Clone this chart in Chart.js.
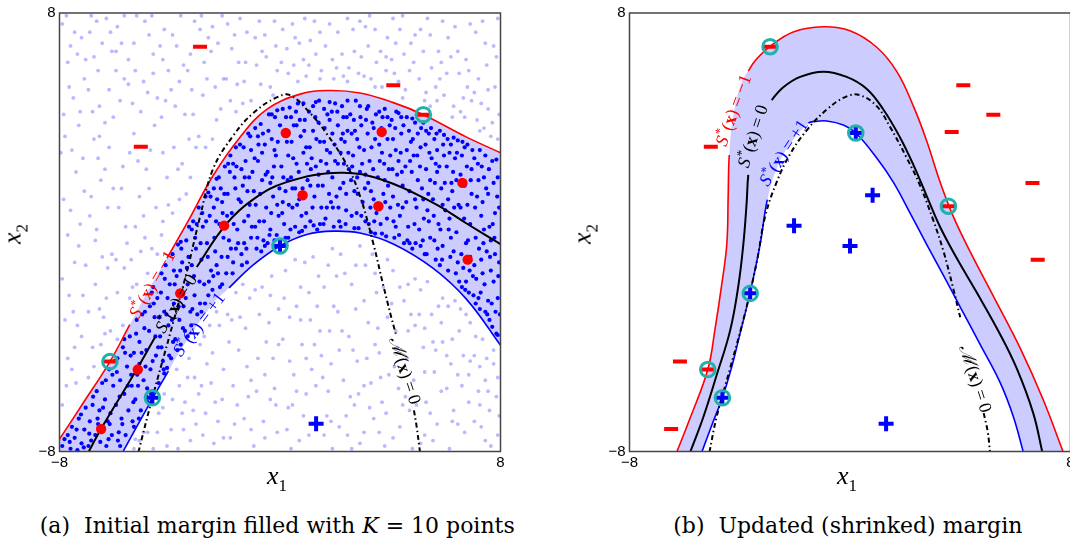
<!DOCTYPE html>
<html>
<head>
<meta charset="utf-8">
<script src="https://cdn.jsdelivr.net/npm/chart.js@4.4.1/dist/chart.umd.min.js"></script>
<style>
html,body{margin:0;padding:0;background:#fff;}
body{width:1070px;height:543px;overflow:hidden;position:relative;}
.panel{position:absolute;top:0;width:520px;height:470px;}
.panel canvas{display:block;}
.axt{position:absolute;font-family:"Liberation Serif",serif;font-style:italic;font-size:26px;line-height:26px;white-space:nowrap;color:#000;}
.axt .sb{font-style:normal;font-size:17px;position:relative;top:6.5px;}
.cap{position:absolute;font-family:"DejaVu Serif",serif;font-size:21.5px;line-height:26px;white-space:pre;color:#000;transform-origin:50% 50%;}
</style>
</head>
<body>
<div class="panel" style="left:0"><canvas id="chartA" width="520" height="470"></canvas></div>
<div class="panel" style="left:570px"><canvas id="chartB" width="520" height="470"></canvas></div>
<div class="axt" style="left:277px;top:463px;transform:translateX(-50%)">x<span class="sb">1</span></div>
<div class="axt" style="left:847px;top:463px;transform:translateX(-50%)">x<span class="sb">1</span></div>
<div class="axt" style="left:13.5px;top:233.5px;transform:translate(-50%,-50%) rotate(-90deg)">x<span class="sb">2</span></div>
<div class="axt" style="left:583.5px;top:233.5px;transform:translate(-50%,-50%) rotate(-90deg)">x<span class="sb">2</span></div>
<div class="cap" data-cx="277.5" data-w="475" style="top:512.5px">(a)  Initial margin filled with <i>K</i> = 10 points</div>
<div class="cap" data-cx="847.5" data-w="349" style="top:512.5px">(b)  Updated (shrinked) margin</div>
<script>
// ---------------- data ----------------
const AXIS_MIN = -8, AXIS_MAX = 8;
const AXIS_TICKS = [-8, 8];
const CURVE_LEVELS = { red: '\u22121', zero: '0', blue: '+1' };
const BOUNDARY_LEVEL = '0';

// panel (a): contour S*(x) = -1, 0, +1 and true boundary M(x) = 0
const leftRed = [[-8,-7.55],[-7.14,-6.23],[-6.17,-4.72],[-5.45,-3.37],[-4.96,-2.45],[-4.1,-0.94],[-3.38,0.32],[-2.42,2.08],[-1.45,3.47],[-0.48,4.48],[0.73,5.04],[1.75,5.17],[2.90,5.08],[4.11,4.73],[5.20,4.29],[6.77,3.47],[8,2.90]];
const leftZero = [[-6.95,-8.03],[-6.53,-7.24],[-5.20,-5.01],[-4.53,-3.82],[-3.63,-2.26],[-3.02,-1.27],[-1.93,0.32],[-0.97,1.20],[0.24,1.83],[2.18,2.17],[3.75,1.90],[5.56,1.07],[6.77,0.32],[8,-0.43]];
const leftBlue = [[-5.71,-8.03],[-4.65,-6.11],[-4.05,-5.07],[-3.63,-4.34],[-2.42,-2.58],[-1.85,-2.03],[-0.97,-1.19],[0,-0.50],[0.97,-0.08],[1.94,0.04],[2.90,-0.03],[4.11,-0.43],[5.56,-1.32],[6.77,-2.45],[8,-4.12]];
const leftBoundary = [[-5.14,-8.03],[-4.65,-6.11],[-3.99,-3.71],[-3.38,-1.44],[-2.90,0.57],[-2.42,2.33],[-1.69,3.53],[-0.97,4.35],[-0.12,4.92],[0.36,5.00],[1.09,4.35],[1.69,3.60],[2.42,2.46],[2.90,1.33],[3.39,-0.43],[3.75,-1.95],[4.2,-3.7],[4.60,-4.97],[4.86,-6.5],[4.96,-7.11],[5.06,-7.87],[5.08,-8.03]];
const leftGaps = { red: [-5.45,-4.1], zero: [-4.53,-3.02], blue: [-4.05,-1.85], boundary: [4.2,4.86] };

// panel (a): samples inside the margin (dark)
const leftMarginSamples = [[-7.9,-7.8],[-7.7,-7.4],[-7.6,-7.9],[-7.55,-7.1],[-7.45,-7.5],[-7.3,-6.8],[-7.2,-7.7],[-7.1,-7.2],[-7.05,-6.4],[-7.35,-7.95],[-6.95,-7.8],[-6.9,-6.9],[-6.8,-6.3],[-6.7,-7.4],[-6.65,-5.8],[-6.6,-7.0],[-6.55,-6.5],[-6.85,-7.6],[-6.45,-5.5],[-6.4,-7.2],[-6.35,-6.1],[-6.3,-7.8],[-6.2,-5.0],[-6.15,-6.6],[-6.1,-7.4],[-6.05,-5.6],[-6.25,-6.9],[-6.0,-4.7],[-5.95,-6.3],[-5.9,-4.6],[-5.85,-7.3],[-5.8,-5.4],[-5.75,-6.8],[-5.7,-4.2],[-5.65,-5.9],[-5.6,-7.4],[-5.55,-4.9],[-5.5,-6.5],[-5.65,-3.9],[-5.8,-7.8],[-5.45,-3.8],[-5.4,-5.2],[-5.35,-6.9],[-5.3,-4.4],[-5.25,-6.1],[-5.2,-3.2],[-5.15,-5.6],[-5.1,-4.0],[-5.05,-6.5],[-5.0,-3.0],[-5.3,-7.1],[-5.1,-4.8],[-4.95,-5.4],[-4.9,-2.9],[-4.85,-4.3],[-4.8,-6.2],[-4.75,-3.6],[-4.7,-5.0],[-4.65,-2.2],[-4.6,-5.8],[-4.55,-3.1],[-4.5,-4.5],[-4.85,-6.0],[-4.6,-2.0],[-4.45,-2.4],[-4.4,-5.5],[-4.35,-3.8],[-4.3,-1.5],[-4.25,-4.7],[-4.2,-2.9],[-4.15,-1.2],[-4.1,-4.95],[-4.05,-3.4],[-4.0,-1.9],[-4.3,-4.2],[-4.2,-5.15],[-3.95,-4.6],[-3.9,-0.8],[-3.85,-2.6],[-3.8,-3.9],[-3.75,-1.6],[-3.7,-0.45],[-3.65,-3.2],[-3.6,-4.1],[-3.55,-1.1],[-3.5,-2.7],[-3.85,-1.4],[-3.6,-0.35],[-3.45,-3.6],[-3.4,-0.3],[-3.35,-1.9],[-3.3,0.2],[-3.25,-2.9],[-3.2,-1.2],[-3.15,0.4],[-3.1,-2.3],[-3.05,-0.6],[-3.0,-3.0],[-3.35,-3.8],[-3.2,0.1],[-2.95,0.9],[-2.9,-2.6],[-2.85,-1.0],[-2.8,0.2],[-2.75,-1.9],[-2.7,1.3],[-2.65,-0.4],[-2.6,-2.3],[-2.55,0.6],[-2.5,-1.4],[-2.85,-2.9],[-2.6,1.45],[-2.45,-2.1],[-2.4,0.9],[-2.35,-0.7],[-2.3,1.95],[-2.25,-1.5],[-2.2,0.3],[-2.15,1.6],[-2.1,-1.9],[-2.05,-0.2],[-2.0,2.4],[-2.4,1.6],[-2.3,-1.2],[-2.1,1.1],[-1.95,-1.5],[-1.9,1.4],[-1.85,-0.3],[-1.8,2.8],[-1.75,0.7],[-1.7,-1.1],[-1.65,2.0],[-1.6,3.1],[-1.55,0.1],[-1.5,1.2],[-1.9,-0.9],[-1.7,2.5],[-1.6,-0.6],[-1.45,3.2],[-1.4,-0.8],[-1.35,1.7],[-1.3,0.4],[-1.25,2.6],[-1.2,-1.1],[-1.15,3.6],[-1.1,1.0],[-1.05,-0.2],[-1.0,2.2],[-1.4,2.3],[-1.3,-0.4],[-1.15,0.6],[-1.05,3.0],[-0.95,1.5],[-0.9,3.8],[-0.85,-0.6],[-0.8,2.6],[-0.75,0.4],[-0.7,3.95],[-0.65,1.9],[-0.6,-0.3],[-0.55,3.2],[-0.5,0.9],[-0.9,0.2],[-0.8,3.5],[-0.65,2.9],[-0.55,-0.5],[-0.45,2.2],[-0.4,4.3],[-0.35,0.1],[-0.3,3.4],[-0.25,1.3],[-0.2,-0.3],[-0.15,2.8],[-0.1,4.45],[-0.05,0.6],[0.0,3.9],[-0.45,-0.4],[-0.35,1.8],[-0.2,3.0],[-0.1,1.0],[-0.3,4.3],[0.05,2.4],[0.1,4.5],[0.15,0.3],[0.2,1.5],[0.25,3.3],[0.3,-0.2],[0.35,4.55],[0.4,2.0],[0.45,0.9],[0.5,3.9],[0.1,1.1],[0.2,-0.2],[0.3,2.8],[0.4,4.2],[0.45,1.6],[0.55,0.2],[0.6,2.5],[0.65,4.7],[0.7,1.2],[0.75,3.5],[0.8,0.05],[0.85,2.9],[0.9,4.1],[0.95,0.7],[1.0,1.9],[0.6,3.9],[0.7,0.0],[0.85,4.7],[0.95,3.1],[0.55,1.6],[1.05,4.4],[1.1,0.4],[1.15,2.7],[1.2,3.7],[1.25,1.3],[1.3,4.75],[1.35,0.1],[1.4,2.1],[1.45,3.3],[1.5,0.9],[1.1,1.7],[1.2,4.6],[1.3,2.4],[1.4,4.0],[1.45,0.3],[1.55,1.7],[1.6,4.5],[1.65,0.5],[1.7,3.0],[1.75,2.2],[1.8,4.75],[1.85,1.1],[1.9,3.6],[1.95,0.2],[2.0,2.6],[1.6,3.3],[1.7,0.9],[1.8,4.1],[1.9,2.0],[2.0,4.7],[2.05,1.3],[2.1,3.9],[2.15,0.4],[2.2,2.9],[2.25,4.6],[2.3,1.8],[2.35,3.3],[2.4,0.8],[2.45,4.8],[2.5,2.3],[2.1,2.5],[2.2,0.2],[2.3,4.2],[2.4,1.4],[2.45,3.7],[2.55,4.3],[2.6,0.6],[2.65,2.8],[2.7,1.5],[2.75,4.8],[2.8,3.4],[2.85,0.15],[2.9,2.2],[2.95,3.9],[3.0,1.1],[2.6,3.6],[2.7,0.15],[2.8,2.0],[2.9,4.6],[2.95,0.6],[3.05,3.0],[3.1,0.4],[3.15,4.5],[3.2,1.8],[3.25,2.6],[3.3,0.0],[3.35,4.0],[3.4,1.2],[3.45,3.4],[3.5,0.7],[3.1,2.1],[3.2,4.6],[3.3,1.5],[3.4,3.8],[3.45,-0.05],[3.55,2.0],[3.6,4.4],[3.65,0.3],[3.7,2.9],[3.75,1.4],[3.8,4.5],[3.85,-0.15],[3.9,3.4],[3.95,2.3],[4.0,0.9],[3.6,3.2],[3.7,-0.05],[3.8,1.9],[3.9,4.2],[4.0,2.8],[4.05,4.1],[4.1,1.3],[4.15,-0.2],[4.2,3.0],[4.25,2.1],[4.3,4.35],[4.35,0.6],[4.4,3.6],[4.45,1.7],[4.5,-0.4],[4.1,3.4],[4.2,0.2],[4.3,2.6],[4.4,4.2],[4.45,0.9],[4.55,2.4],[4.6,4.2],[4.65,0.2],[4.7,1.5],[4.75,3.3],[4.8,-0.6],[4.85,2.8],[4.9,4.0],[4.95,0.9],[5.0,1.9],[4.6,3.0],[4.7,-0.4],[4.8,4.15],[4.9,1.2],[5.0,3.6],[5.05,0.1],[5.1,3.1],[5.15,1.6],[5.2,4.0],[5.25,-0.8],[5.3,2.3],[5.35,0.8],[5.4,3.6],[5.45,-0.2],[5.5,2.7],[5.1,-0.5],[5.2,1.2],[5.3,3.7],[5.4,0.4],[5.45,1.9],[5.55,1.2],[5.6,3.4],[5.65,-1.0],[5.7,2.2],[5.75,0.3],[5.8,3.7],[5.85,1.6],[5.9,-0.5],[5.95,2.8],[6.0,0.8],[5.6,-0.3],[5.7,3.0],[5.8,-1.2],[5.9,1.0],[5.95,3.55],[5.65,2.5],[6.05,2.4],[6.1,-1.4],[6.15,0.5],[6.2,3.2],[6.25,1.5],[6.3,-0.7],[6.35,2.7],[6.4,0.0],[6.45,3.35],[6.5,-1.8],[6.1,1.2],[6.2,-0.2],[6.3,3.45],[6.4,1.9],[6.45,-1.1],[6.15,2.9],[6.55,0.9],[6.6,2.8],[6.65,-1.3],[6.7,1.7],[6.75,-0.4],[6.8,3.2],[6.85,-2.2],[6.9,0.3],[6.95,2.3],[7.0,-1.6],[6.6,-2.0],[6.7,3.1],[6.8,1.0],[6.9,-0.9],[6.95,1.4],[6.55,2.1],[6.75,-1.8],[7.05,2.7],[7.1,-0.2],[7.15,1.3],[7.2,-2.4],[7.25,3.0],[7.3,0.6],[7.35,-1.5],[7.4,2.0],[7.45,-2.9],[7.5,-0.7],[7.1,-2.6],[7.2,1.9],[7.3,-1.0],[7.4,0.1],[7.45,2.8],[7.05,-1.2],[7.25,-2.8],[7.35,1.1],[7.55,1.4],[7.6,-3.2],[7.65,-0.3],[7.7,2.6],[7.75,-1.8],[7.8,0.7],[7.85,-3.7],[7.9,2.0],[7.95,-1.1],[7.55,-2.5],[7.6,0.2],[7.7,-3.45],[7.75,1.8],[7.8,-0.8],[7.85,2.65],[7.9,-2.4],[7.95,0.9],[7.65,-1.4],[7.9,-3.75],
[-7.82,-7.55],[-7.63,-7.65],[-7.38,-7.2],[-7.22,-6.65],[-7.12,-7.85],[-6.92,-7.35],[-6.78,-6.0],[-6.62,-6.8],[-6.52,-7.65],[-6.42,-6.4],[-6.32,-5.4],[-6.18,-7.0],[-6.08,-5.2],[-6.22,-7.55],[-5.92,-5.1],[-5.82,-6.0],[-5.72,-7.0],[-5.62,-4.4],[-5.52,-5.6],[-5.88,-7.6],[-5.42,-4.5],[-5.32,-6.2],[-5.22,-3.7],[-5.12,-6.8],[-5.02,-4.4],[-5.38,-5.6],[-5.18,-5.2],[-4.92,-3.5],[-4.82,-5.7],[-4.72,-2.7],[-4.62,-4.7],[-4.52,-3.8],[-4.88,-4.9],[-4.68,-5.9],[-4.58,-2.6],[-4.42,-4.2],[-4.32,-2.2],[-4.22,-5.0],[-4.12,-3.0],[-4.02,-4.5],[-4.38,-3.1],[-4.18,-1.7],[-4.08,-2.4],[-3.92,-3.2],[-3.82,-1.9],[-3.72,-4.3],[-3.62,-1.4],[-3.52,-3.5],[-3.88,-4.0],[-3.68,-2.7],[-3.58,-0.6],[-3.42,-2.4],[-3.32,-0.9],[-3.22,-3.4],[-3.12,-1.6],[-3.02,0.3],[-3.38,-1.3],[-3.18,-2.8],[-3.08,-0.2],[-2.92,-1.8],[-2.82,0.7],[-2.72,-2.6],[-2.62,-0.9],[-2.52,1.3],[-2.88,-0.4],[-2.68,0.4],[-2.58,-1.8],[-2.42,-1.6],[-2.32,0.4],[-2.22,2.0],[-2.12,-0.9],[-2.02,1.4],[-2.38,-0.2],[-2.18,-2.0],[-2.08,0.7],[-2.28,1.2],[-1.92,0.6],[-1.82,2.2],[-1.72,-1.5],[-1.62,1.6],[-1.52,-0.4],[-1.88,2.5],[-1.78,-0.6],[-1.68,0.3],[-1.58,2.4],[-1.42,1.1],[-1.32,3.1],[-1.22,-0.6],[-1.12,2.0],[-1.02,0.2],[-1.38,-1.2],[-1.28,2.0],[-1.18,1.5],[-1.08,3.5],[-0.92,2.7],[-0.82,-0.2],[-0.72,1.4],[-0.62,3.6],[-0.52,2.1],[-0.88,1.0],[-0.78,3.2],[-0.68,-0.7],[-0.58,0.4],[-0.42,3.7],[-0.32,0.7],[-0.22,2.4],[-0.12,-0.1],[-0.02,1.6],[-0.38,-0.1],[-0.28,2.0],[-0.18,4.2],[-0.08,3.3],[0.08,0.7],[0.18,3.6],[0.28,1.9],[0.38,0.1],[0.48,2.7],[0.12,2.0],[0.22,4.2],[0.32,1.0],[0.42,3.3],[0.58,4.4],[0.68,2.2],[0.78,0.6],[0.88,3.7],[0.98,2.5],[0.62,1.0],[0.72,4.1],[0.82,1.6],[0.92,0.2],[1.08,3.1],[1.18,0.9],[1.28,4.2],[1.38,1.7],[1.48,2.6],[1.12,2.3],[1.22,0.25],[1.32,3.4],[1.42,4.8],[1.58,0.3],[1.68,2.5],[1.78,1.4],[1.88,4.4],[1.98,3.2],[1.62,3.8],[1.72,4.3],[1.82,2.9],[1.92,0.9],[2.08,4.4],[2.18,1.6],[2.28,3.6],[2.38,0.3],[2.48,2.9],[2.12,0.9],[2.22,3.4],[2.32,2.5],[2.42,4.2],[2.58,1.9],[2.68,4.1],[2.78,0.7],[2.88,3.1],[2.98,2.5],[2.62,2.4],[2.72,3.7],[2.82,1.4],[2.92,4.2],[3.08,1.6],[3.18,3.6],[3.28,0.9],[3.38,2.3],[3.48,4.3],[3.12,4.1],[3.22,0.3],[3.32,3.1],[3.42,0.4],[3.58,1.0],[3.68,3.8],[3.78,2.5],[3.88,0.5],[3.98,3.9],[3.62,2.6],[3.72,4.2],[3.82,1.1],[3.92,1.7],[4.08,2.3],[4.18,3.8],[4.28,1.0],[4.38,2.9],[4.48,3.9],[4.12,0.4],[4.22,4.4],[4.32,-0.1],[4.42,2.2],[4.58,1.1],[4.68,3.7],[4.78,2.2],[4.88,0.3],[4.98,2.8],[4.62,-0.3],[4.72,2.6],[4.82,3.4],[4.92,-0.4],[5.08,2.4],[5.18,-0.3],[5.28,3.2],[5.38,1.4],[5.48,3.8],[5.12,3.8],[5.22,0.5],[5.32,-0.8],[5.42,2.9],[5.58,0.6],[5.68,3.6],[5.78,2.4],[5.88,-1.0],[5.98,1.8],[5.62,1.8],[5.72,-0.6],[5.82,0.1],[5.92,3.2],[6.08,3.4],[6.18,-0.9],[6.28,2.2],[6.38,-1.5],[6.48,1.0],[6.12,0.1],[6.22,1.8],[6.32,0.9],[6.42,2.9],[6.58,-0.8],[6.68,0.5],[6.78,2.4],[6.88,-1.4],[6.98,3.0],[6.62,3.3],[6.72,-2.1],[6.82,-0.3],[6.92,1.9],[7.08,0.9],[7.18,2.5],[7.28,-2.2],[7.38,-0.4],[7.48,1.6],[7.12,-1.7],[7.22,-0.6],[7.32,2.4],[7.42,-1.9],[7.02,-2.3],[7.58,2.3],[7.68,-2.6],[7.78,-0.2],[7.88,1.3],[7.98,-3.0],[7.62,-0.9],[7.72,0.3],[7.82,-2.9],[7.92,-1.6],[7.52,-3.0]];
// panel (a): samples outside the margin (light)
const leftOuterSamples = [[-7.9,7.6],[-7.7,6.2],[-7.5,4.9],[-7.2,7.1],[-7.8,3.5],[-7.4,2.2],[-7.1,5.6],[-7.6,0.8],[-7.3,-0.5],[-7.9,-1.7],[-7.5,-2.9],[-7.2,-3.8],[-7.7,-4.6],[-7.4,-5.5],[-7.9,-6.3],[-7.1,1.5],[-7.6,6.8],[-7.3,3.9],[-7.8,-3.2],[-7.05,-1.2],[-6.9,7.3],[-6.6,5.9],[-6.3,7.8],[-6.8,4.4],[-6.2,3.1],[-6.5,1.9],[-6.9,0.6],[-6.1,-0.8],[-6.7,-1.9],[-6.4,-3.1],[-6.8,-4.2],[-6.2,5.2],[-6.6,2.7],[-6.3,-2.4],[-6.95,-5.3],[-6.5,-4.1],[-6.1,6.6],[-6.7,-0.3],[-5.9,7.5],[-5.5,6.3],[-5.2,7.9],[-5.8,4.8],[-5.3,3.6],[-5.7,2.4],[-5.1,1.3],[-5.6,0.2],[-5.4,-1.0],[-5.9,-2.2],[-5.2,-1.9],[-5.7,-3.4],[-5.5,5.4],[-5.05,4.4],[-5.9,-3.9],[-5.3,6.9],[-5.1,-7.6],[-5.3,-7.9],[-4.9,7.7],[-4.6,6.5],[-4.2,7.4],[-4.8,5.1],[-4.3,4.2],[-4.7,3.0],[-4.1,2.0],[-4.5,0.9],[-4.9,-0.2],[-4.3,-0.1],[-4.8,-1.5],[-4.6,5.8],[-4.05,5.9],[-4.8,-7.3],[-4.4,-6.6],[-4.1,-7.8],[-4.6,-7.9],[-4.2,-5.9],[-3.9,7.2],[-3.5,6.1],[-3.1,7.7],[-3.8,4.6],[-3.3,3.4],[-3.7,2.3],[-3.2,5.2],[-3.9,0.7],[-3.4,1.4],[-3.6,7.9],[-3.9,-6.1],[-3.5,-7.2],[-3.1,-5.3],[-3.7,-7.9],[-3.3,-4.6],[-3.05,-7.0],[-2.9,7.4],[-2.5,6.6],[-2.1,7.9],[-2.8,5.0],[-2.3,4.1],[-2.7,3.1],[-2.05,5.6],[-2.6,7.1],[-2.9,-4.1],[-2.5,-5.5],[-2.2,-3.4],[-2.7,-6.6],[-2.4,-7.7],[-2.1,-6.1],[-2.8,-7.4],[-2.3,-2.9],[-1.9,7.6],[-1.5,6.2],[-1.2,7.3],[-1.8,4.8],[-1.3,5.5],[-1.6,4.4],[-1.9,-3.0],[-1.5,-4.3],[-1.1,-2.4],[-1.7,-5.6],[-1.3,-6.8],[-1.8,-7.5],[-1.2,-4.9],[-1.6,-2.2],[-0.9,7.1],[-0.5,6.4],[-0.2,7.7],[-0.7,5.4],[-0.1,5.9],[-0.9,-2.1],[-0.4,-3.3],[-0.8,-4.6],[-0.2,-5.7],[-0.6,-6.9],[-0.3,-1.6],[-0.95,-7.8],[-0.5,-4.0],[-0.1,-7.3],[0.1,7.4],[0.5,6.1],[0.9,7.8],[0.3,5.8],[0.7,6.9],[0.2,-1.4],[0.6,-2.7],[0.9,-1.1],[0.1,-3.9],[0.5,-5.2],[0.8,-4.1],[0.3,-6.4],[0.7,-7.6],[0.95,-5.9],[0.4,-7.9],[1.1,7.0],[1.5,5.9],[1.8,7.6],[1.3,6.5],[1.9,6.3],[1.2,-0.9],[1.6,-2.0],[1.9,-0.6],[1.1,-3.2],[1.5,-4.5],[1.8,-3.6],[1.3,-5.6],[1.7,-6.7],[1.05,-7.4],[1.9,-7.9],[1.4,-1.6],[2.1,7.3],[2.5,6.0],[2.9,7.7],[2.3,5.7],[2.7,6.6],[2.2,-0.8],[2.6,-1.9],[2.9,-0.5],[2.1,-2.9],[2.5,-3.8],[2.8,-4.7],[2.3,-5.4],[2.7,-6.3],[2.15,-7.1],[2.9,-7.7],[2.4,-6.7],[3.1,7.5],[3.5,6.2],[3.9,7.1],[3.3,5.6],[3.7,5.3],[3.2,6.8],[3.1,-1.2],[3.5,-2.2],[3.9,-1.0],[3.2,-3.3],[3.6,-4.4],[3.9,-3.1],[3.3,-5.5],[3.7,-6.2],[3.05,-7.3],[3.8,-7.8],[3.4,-6.8],[4.1,7.8],[4.5,6.5],[4.9,7.2],[4.3,5.5],[4.7,5.9],[4.2,6.9],[4.1,-1.4],[4.5,-2.5],[4.9,-1.7],[4.2,-3.6],[4.6,-4.6],[4.9,-3.4],[4.3,-5.7],[4.7,-6.5],[4.1,-7.5],[4.8,-7.9],[5.1,7.4],[5.5,6.0],[5.9,7.7],[5.3,5.1],[5.7,4.8],[5.2,6.6],[5.8,5.6],[5.1,-2.1],[5.5,-3.0],[5.9,-2.4],[5.2,-4.2],[5.6,-5.1],[5.9,-4.0],[5.3,-6.2],[5.7,-7.0],[5.1,-7.7],[6.1,7.1],[6.5,5.8],[6.9,7.6],[6.3,4.6],[6.7,4.2],[6.2,6.4],[6.8,5.3],[6.1,-2.7],[6.5,-3.6],[6.9,-3.3],[6.2,-4.8],[6.6,-5.6],[6.9,-4.7],[6.3,-6.5],[6.7,-7.3],[6.15,-7.9],[7.1,7.3],[7.5,6.1],[7.9,7.8],[7.3,4.7],[7.7,4.0],[7.2,5.6],[7.8,5.3],[7.4,3.8],[7.1,-3.8],[7.5,-4.6],[7.9,-5.3],[7.2,-5.8],[7.6,-6.5],[7.9,-7.4],[7.3,-7.1],[7.05,-6.9],[-7.65,5.3],[-7.25,4.4],[-7.85,1.2],[-7.45,-1.1],[-7.15,-2.3],[-7.55,-5.0],[-7.95,2.9],[-7.35,6.5],[-6.75,6.4],[-6.35,4.0],[-6.85,1.3],[-6.45,-0.9],[-6.15,-3.6],[-6.55,3.5],[-6.25,0.9],[-6.65,7.7],[-5.75,6.9],[-5.35,4.7],[-5.85,0.9],[-5.45,-2.4],[-5.15,2.6],[-5.65,7.9],[-5.55,-0.4],[-5.95,5.9],[-4.75,7.2],[-4.35,6.8],[-4.85,2.3],[-4.45,-0.8],[-4.15,4.8],[-4.55,3.9],[-4.95,0.6],[-3.75,6.8],[-3.35,5.9],[-3.85,3.1],[-3.55,2.5],[-3.15,4.3],[-3.45,-6.2],[-3.75,-5.0],[-3.25,-7.6],[-2.75,6.2],[-2.35,5.3],[-2.95,3.5],[-2.45,7.5],[-2.65,-4.8],[-2.25,-6.9],[-2.85,-5.6],[-2.55,-3.4],[-1.75,6.7],[-1.35,4.7],[-1.95,5.6],[-1.45,7.8],[-1.85,-4.0],[-1.45,-3.1],[-1.15,-6.0],[-1.65,-7.0],[-1.35,-1.9],[-0.75,7.7],[-0.35,5.3],[-0.85,6.1],[-0.15,6.8],[-0.75,-3.0],[-0.35,-2.3],[-0.85,-5.8],[-0.25,-4.6],[-0.55,-7.5],[-0.15,-6.3],[0.25,6.7],[0.65,5.5],[0.85,6.3],[0.45,7.6],[0.15,-2.4],[0.55,-1.0],[0.75,-3.2],[0.35,-4.7],[0.85,-6.7],[0.25,-7.2],[0.6,-5.8],[1.25,7.7],[1.65,6.8],[1.45,5.6],[1.75,-1.2],[1.35,-2.7],[1.85,-4.8],[1.25,-4.1],[1.55,-5.3],[1.6,-7.4],[2.25,6.5],[2.65,7.4],[2.45,5.5],[2.85,5.8],[2.35,-1.5],[2.75,-2.8],[2.15,-4.3],[2.55,-6.0],[2.85,-5.9],[2.6,-7.9],[3.25,7.9],[3.65,6.6],[3.85,5.9],[3.45,5.3],[3.35,-0.8],[3.75,-2.0],[3.15,-4.6],[3.55,-3.5],[3.95,-5.2],[3.25,-6.4],[3.6,-7.3],[4.35,7.4],[4.75,6.9],[4.15,5.8],[4.55,5.2],[4.35,-2.0],[4.75,-3.0],[4.15,-4.9],[4.55,-6.0],[4.85,-5.4],[4.35,-7.1],[5.35,7.8],[5.75,6.6],[5.45,4.6],[5.95,5.0],[5.35,-1.8],[5.75,-2.7],[5.25,-3.5],[5.65,-4.3],[5.45,-6.6],[5.85,-5.8],[5.25,-7.4],[6.35,7.5],[6.75,6.3],[6.55,4.4],[6.95,4.8],[6.35,-2.5],[6.75,-3.0],[6.25,-3.9],[6.65,-4.5],[6.45,-7.0],[6.85,-6.2],[6.05,-5.7],[7.35,7.7],[7.75,6.8],[7.55,5.2],[7.95,4.3],[7.15,4.1],[7.65,3.5],[7.35,-3.9],[7.75,-4.8],[7.25,-6.3],[7.65,-7.8],[7.85,-6.0],[7.45,-5.4],
[-7.75,7.9],[-7.45,7.3],[-7.05,6.3],[-7.85,4.3],[-7.55,3.0],[-7.15,2.7],[-7.7,-0.1],[-7.25,0.3],[-7.65,-2.3],[-7.35,-3.4],[-7.75,-5.6],[-7.45,-4.2],[-6.95,-2.9],[-6.85,7.9],[-6.45,6.9],[-6.15,7.3],[-6.95,5.2],[-6.55,4.6],[-6.05,4.2],[-6.75,3.4],[-6.35,2.3],[-6.05,1.6],[-6.65,0.1],[-6.25,-1.3],[-6.55,-2.8],[-6.75,-4.9],[-6.35,-3.7],[-5.95,6.6],[-5.65,5.6],[-5.25,5.9],[-5.45,2.9],[-5.75,1.6],[-5.25,0.2],[-5.65,-1.3],[-5.95,-1.0],[-5.35,-2.0],[-5.05,-0.7],[-4.65,7.9],[-4.25,6.3],[-4.95,5.5],[-4.45,4.9],[-4.75,1.6],[-4.25,2.9],[-4.05,1.0],[-4.65,-0.6],[-4.25,0.4],[-3.65,5.5],[-3.25,6.5],[-3.95,5.2],[-3.45,4.3],[-3.05,3.1],[-3.65,1.2],[-3.25,2.0],[-2.65,5.6],[-2.25,6.9],[-2.45,3.4],[-2.15,4.5],[-2.85,7.9],[-1.65,7.2],[-1.25,6.2],[-1.05,4.8],[-1.55,5.4],[-0.55,7.2],[-0.25,5.0],[-0.65,6.6],[0.05,6.2],[0.55,7.1],[0.95,5.7],[1.45,7.3],[1.05,6.1],[1.95,5.6],[2.45,7.8],[2.05,6.0],[2.95,6.4],[3.45,7.4],[3.05,5.7],[3.85,6.4],[4.45,7.9],[4.05,6.3],[4.85,6.2],[4.45,4.9],[5.45,7.2],[5.05,5.6],[5.85,6.2],[5.25,4.8],[5.65,5.3],[6.45,6.6],[6.05,5.8],[6.85,5.9],[6.25,4.2],[6.65,4.9],[7.45,6.9],[7.05,5.1],[7.85,6.4],[7.55,4.5],[7.25,3.7],[7.9,3.4],[-5.25,-7.55],[-4.95,-7.3],[-4.45,-7.3],[-4.25,-6.4],[-3.95,-7.2],[-3.65,-5.6],[-3.55,-6.6],[-3.15,-6.5],[-3.35,-5.3],[-2.95,-5.9],[-2.75,-3.8],[-2.45,-4.4],[-2.35,-6.2],[-2.05,-5.0],[-2.05,-7.5],[-1.75,-3.2],[-1.55,-6.3],[-1.25,-3.5],[-1.05,-5.4],[-1.05,-7.2],[-0.65,-2.0],[-0.55,-5.2],[-0.35,-6.1],[-0.05,-2.8],[-0.05,-4.1],[0.35,-3.1],[0.45,-6.3],[0.75,-2.0],[0.95,-4.6],[1.15,-5.0],[1.05,-2.2],[1.45,-3.6],[1.75,-5.8],[1.95,-2.7],[1.85,-6.9],[2.05,-1.6],[2.25,-3.6],[2.45,-7.4],[2.65,-4.3],[2.75,-1.2],[3.05,-2.5],[3.05,-5.6],[3.45,-4.1],[3.45,-1.5],[3.65,-5.3],[3.85,-6.6],[4.05,-2.6],[4.25,-4.2],[4.45,-6.3],[4.65,-3.6],[4.65,-1.9],[4.95,-6.3],[5.05,-3.0],[5.25,-5.1],[5.55,-4.0],[5.55,-7.6],[5.85,-3.3],[6.05,-4.5],[6.25,-6.9],[6.45,-5.2],[6.55,-2.8],[6.85,-5.2],[7.05,-4.5],[7.25,-4.9],[7.55,-5.8],[7.75,-4.3],[7.95,-6.7],[7.45,-7.6]];

// panel (a): labelled points
const leftQueried = [[0.21,3.62],[3.69,3.66],[6.62,1.80],[0.82,1.35],[3.57,0.95],[-2.03,0.24],[6.81,-1.00],[-3.62,-2.23],[-5.16,-5.01],[-6.49,-7.18]];
const leftMinus = [[-2.90,6.77],[-5.05,3.12],[4.11,5.36],[5.20,4.29],[-6.17,-4.72]];
const leftPlus = [[0.0,-0.50],[-4.63,-6.04],[1.31,-6.99]];
const leftSupport = [[5.20,4.29],[-6.17,-4.72],[0.0,-0.50],[-4.63,-6.04]];

// panel (b)
const rightRed = [[-6.29,-8.03],[-5.80,-6.78],[-5.16,-5.01],[-4.9,-3.55],[-4.66,-1.95],[-4.47,-0.44],[-4.42,1.33],[-4.38,2.82],[-4.23,4.27],[-3.93,5.48],[-3.69,5.88],[-3.45,6.25],[-2.90,6.78],[-2.06,7.31],[-0.97,7.50],[0.0,7.35],[0.97,6.75],[1.70,5.86],[2.30,4.60],[2.78,3.34],[3.27,1.83],[3.75,0.57],[4.35,-0.69],[5.20,-2.33],[6.17,-4.22],[7.01,-6.11],[7.74,-8.03]];
const rightZero = [[-5.80,-8.03],[-5.32,-6.74],[-4.84,-5.22],[-4.35,-3.59],[-4.05,-1.95],[-3.87,-0.44],[-3.75,1.07],[-3.69,2.09],[-3.51,3.34],[-3.20,4.22],[-2.84,4.82],[-2.42,5.29],[-1.81,5.67],[-0.97,5.86],[-0.12,5.67],[0.61,5.23],[1.21,4.48],[1.81,3.47],[2.30,2.46],[2.78,1.33],[3.27,0.19],[3.87,-0.94],[4.60,-2.20],[5.44,-3.71],[6.05,-4.97],[6.65,-6.61],[6.98,-8.03]];
const rightBlue = [[-5.38,-8.03],[-4.98,-6.95],[-4.63,-6.04],[-4.3,-4.95],[-3.99,-3.7],[-3.63,-2.23],[-3.26,-0.44],[-3.0,1.19],[-2.66,2.33],[-2.18,3.22],[-1.51,3.98],[-1.27,4.04],[-0.84,4.06],[-0.24,3.91],[0.21,3.62],[0.97,2.71],[1.57,1.83],[2.18,0.70],[2.78,-0.44],[3.39,-1.57],[3.99,-2.71],[4.72,-4.09],[5.44,-5.47],[5.93,-6.74],[6.29,-8.03]];
const rightBoundary = [[-5.10,-8.03],[-4.84,-6.74],[-4.35,-4.97],[-3.81,-2.96],[-3.38,-1.07],[-3.08,0.57],[-2.66,1.83],[-2.18,2.84],[-1.57,3.72],[-0.84,4.48],[-0.12,4.96],[0.36,5.00],[0.97,4.60],[1.45,3.85],[2.06,2.71],[2.54,1.71],[3.02,0.44],[3.39,-0.69],[3.75,-2.07],[4.0,-3.1],[4.47,-4.85],[4.85,-6.6],[5.0,-7.3],[5.08,-8.03]];
const rightGaps = { red: [-4.38,-3.69], zero: [-3.69,-2.84], blue: [-3.0,-1.51], boundary: [4.0,4.85] };
const rightMinus = [[-2.90,6.77],[-5.05,3.12],[4.11,5.36],[5.20,4.29],[-6.17,-4.72],[3.69,3.66],[6.62,1.80],[3.57,0.95],[6.81,-1.00],[-5.16,-5.01],[-6.49,-7.18]];
const rightPlus = [[0.0,-0.50],[-4.63,-6.04],[1.31,-6.99],[0.21,3.62],[0.82,1.35],[-2.03,0.24],[-3.62,-2.23]];
const rightSupport = [[-2.90,6.77],[0.21,3.62],[3.57,0.95],[-3.62,-2.23],[-5.16,-5.01],[-4.63,-6.04]];

// ---------------- drawing ----------------
const SERIF = '"Liberation Serif", serif';
const LBL = 18;
function sPieces(level) {
  return [
    {t:'S', font:'italic ' + LBL + 'px ' + SERIF},
    {t:'*', font:'13px ' + SERIF, dy:-7, gap:1},
    {t:'(', font:LBL + 'px ' + SERIF},
    {t:'x', font:'bold ' + LBL + 'px ' + SERIF},
    {t:')', font:LBL + 'px ' + SERIF, gap:4},
    {t:'=', font:LBL + 'px ' + SERIF, gap:4},
    {t:level, font:LBL + 'px ' + SERIF}
  ];
}
function mPieces(level) {
  return [
    {t:'\u2133', font:'italic ' + LBL + 'px ' + SERIF, gap:1},
    {t:'(', font:LBL + 'px ' + SERIF},
    {t:'x', font:'bold ' + LBL + 'px ' + SERIF},
    {t:')', font:LBL + 'px ' + SERIF, gap:4},
    {t:'=', font:LBL + 'px ' + SERIF, gap:4},
    {t:level, font:LBL + 'px ' + SERIF}
  ];
}

function labelPlugin(items) {
  return {
    id: 'curveLabels',
    afterDatasetsDraw(chart) {
      const {ctx} = chart, xs = chart.scales.x, ys = chart.scales.y;
      for (const it of items) {
        const px = xs.getPixelForValue(it.at[0]), py = ys.getPixelForValue(it.at[1]);
        ctx.save();
        ctx.translate(px, py);
        ctx.rotate(it.angle * Math.PI / 180);
        ctx.fillStyle = it.color;
        ctx.textBaseline = 'alphabetic';
        ctx.textAlign = 'left';
        let total = 0;
        for (const p of it.pieces) { ctx.font = p.font; total += ctx.measureText(p.t).width + (p.gap || 0); }
        let cx = -total / 2;
        for (const p of it.pieces) {
          ctx.font = p.font;
          ctx.fillText(p.t, cx, 6 + (p.dy || 0));
          cx += ctx.measureText(p.t).width + (p.gap || 0);
        }
        ctx.restore();
      }
    }
  };
}
const framePlugin = {
  id: 'frame',
  afterDraw(chart) {
    const {ctx, chartArea: a} = chart;
    ctx.save();
    ctx.strokeStyle = '#454545';
    ctx.lineWidth = 1.5;
    ctx.strokeRect(a.left, a.top, a.right - a.left, a.bottom - a.top);
    ctx.restore();
  }
};

function buildPanel(canvasId, P) {
  const pts = a => a.map(p => ({x: p[0], y: p[1]}));
  const hideIn = (arr, gap) => ({
    borderColor: c => {
      const a = arr[c.p0DataIndex], b = arr[c.p1DataIndex];
      if (gap && a && b && a[0] >= gap[0] - 1e-9 && b[0] <= gap[1] + 1e-9) return 'rgba(0,0,0,0)';
      return undefined;
    }
  });
  const curve = (arr, gap, color, width, order, extra) => Object.assign({
    data: pts(arr), showLine: true, pointRadius: 0, pointHoverRadius: 0, pointHitRadius: 0,
    borderColor: color, borderWidth: width, tension: 0.4, fill: false, order,
    segment: hideIn(arr, gap)
  }, extra || {});
  // fill-only copies of the margin edges (lavender under S*=-1, then white under S*=+1)
  const area = (arr, color, order) => ({
    data: pts(arr), showLine: true, pointRadius: 0, pointHoverRadius: 0, pointHitRadius: 0,
    borderWidth: 0, borderColor: 'rgba(0,0,0,0)', tension: 0.4, fill: 'start', backgroundColor: color, order
  });
  const datasets = [
    area(P.red, '#ccccff', 61),
    area(P.blue, '#ffffff', 60),
    curve(P.red, P.gaps.red, '#ff0000', 1.6, 12),
    curve(P.blue, P.gaps.blue, '#0000ff', 1.6, 11),
    curve(P.zero, P.gaps.zero, '#000000', 2, 10),
    curve(P.boundary, P.gaps.boundary, '#000000', 2, 9, {borderDash: [5, 3, 1.5, 3]})
  ];
  if (P.outer) datasets.push({data: pts(P.outer), pointRadius: 1.9, pointBackgroundColor: 'rgba(100,100,255,0.45)', pointBorderWidth: 0, order: 50});
  if (P.inner) datasets.push({data: pts(P.inner), pointRadius: 2.1, pointBackgroundColor: '#0000ff', pointBorderWidth: 0, order: 40});
  if (P.queried) datasets.push({data: pts(P.queried), pointRadius: 5.2, pointBackgroundColor: '#ff0000', pointBorderWidth: 0, order: 4});
  datasets.push({data: pts(P.minus), pointStyle: 'line', pointRadius: 7, pointBorderColor: '#ff0000', pointBorderWidth: 4, order: 3});
  datasets.push({data: pts(P.plus), pointStyle: 'cross', pointRadius: 7.5, pointBorderColor: '#0000ff', pointBorderWidth: 4, order: 3});
  datasets.push({data: pts(P.support), pointStyle: 'circle', pointRadius: 7.3, pointBackgroundColor: 'rgba(0,0,0,0)', pointBorderColor: '#20b2aa', pointBorderWidth: 3, order: 1});

  const tickFmt = v => (v < 0 ? '\u2212' + Math.abs(v) : String(v));
  const axis = (isX) => ({
    type: 'linear', min: AXIS_MIN, max: AXIS_MAX,
    grid: {display: false, drawTicks: false},
    border: {display: false},
    afterBuildTicks: s => { s.ticks = AXIS_TICKS.map(v => ({value: v})); },
    afterFit: s => { if (isX) s.height = 18.5; else s.width = 59.5; },
    ticks: {callback: tickFmt, font: {family: '"Liberation Sans", Arial, sans-serif', size: 15}, color: '#000',
            padding: isX ? 2.5 : 4, autoSkip: false, maxRotation: 0, minRotation: 0}
  });
  return new Chart(document.getElementById(canvasId), {
    type: 'scatter',
    data: {datasets},
    options: {
      responsive: false, animation: false, events: [],
      layout: {padding: {left: 0, top: 10.5, right: 19.5, bottom: 0}},
      scales: {x: axis(true), y: axis(false)},
      plugins: {legend: {display: false}, tooltip: {enabled: false}, filler: {drawTime: 'beforeDatasetsDraw'}}
    },
    plugins: [labelPlugin(P.labels), framePlugin]
  });
}

buildPanel('chartA', {
  red: leftRed, zero: leftZero, blue: leftBlue, boundary: leftBoundary, gaps: leftGaps,
  outer: leftOuterSamples, inner: leftMarginSamples, queried: leftQueried,
  minus: leftMinus, plus: leftPlus, support: leftSupport,
  labels: [
    {pieces: sPieces(CURVE_LEVELS.red), color: '#ff0000', at: [-4.65, -1.9], angle: -60},
    {pieces: sPieces(CURVE_LEVELS.zero), color: '#000000', at: [-3.78, -2.6], angle: -59},
    {pieces: sPieces(CURVE_LEVELS.blue), color: '#0000ff', at: [-2.95, -3.35], angle: -53},
    {pieces: mPieces(BOUNDARY_LEVEL), color: '#000000', at: [4.54, -5.04], angle: 72}
  ]
});
buildPanel('chartB', {
  red: rightRed, zero: rightZero, blue: rightBlue, boundary: rightBoundary, gaps: rightGaps,
  minus: rightMinus, plus: rightPlus, support: rightSupport,
  labels: [
    {pieces: sPieces(CURVE_LEVELS.red), color: '#ff0000', at: [-4.24, 4.46], angle: -70},
    {pieces: sPieces(CURVE_LEVELS.zero), color: '#000000', at: [-3.54, 3.51], angle: -72},
    {pieces: sPieces(CURVE_LEVELS.blue), color: '#0000ff', at: [-2.42, 2.91], angle: -57},
    {pieces: mPieces(BOUNDARY_LEVEL), color: '#000000', at: [4.57, -5.34], angle: 72}
  ]
});

function fitCaptions() {
  for (const el of document.querySelectorAll('.cap')) {
    el.style.transform = 'none';
    const w = el.getBoundingClientRect().width;
    const cx = +el.dataset.cx, target = +el.dataset.w;
    el.style.left = (cx - w / 2) + 'px';
    el.style.transform = 'scaleX(' + (target / w) + ')';
  }
}
fitCaptions();
if (document.fonts && document.fonts.ready) document.fonts.ready.then(fitCaptions);
</script>
</body>
</html>
